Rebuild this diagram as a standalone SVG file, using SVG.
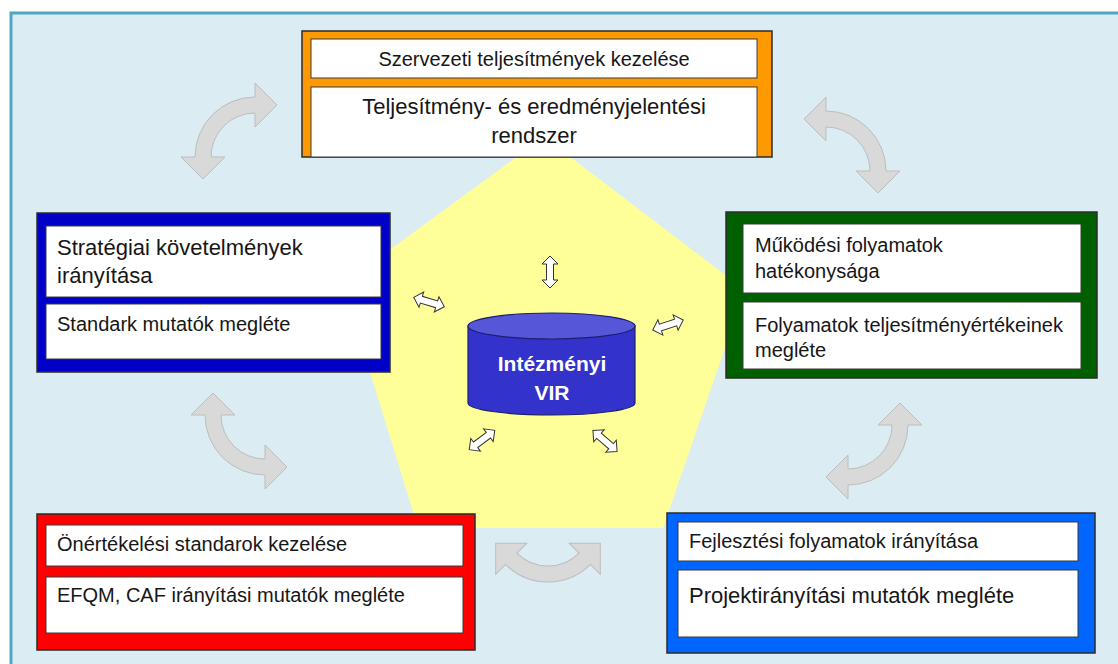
<svg xmlns="http://www.w3.org/2000/svg" width="1118" height="664" viewBox="0 0 1118 664">
<defs>
<style>
.frame{fill:#DBECF3;stroke:#4FA8C2;stroke-width:3}
.outer{stroke:#2b2b2b;stroke-width:1.5}
.inner{fill:#FFFFFF;stroke:#3a3a3a;stroke-width:1}
.t{font-family:"Liberation Sans",Arial,sans-serif;font-size:20px;fill:#161616}
.tl{font-family:"Liberation Sans",Arial,sans-serif;font-size:22px;fill:#161616}
.c{text-anchor:middle}
.vir{font-family:"Liberation Sans",Arial,sans-serif;font-size:21px;font-weight:bold;fill:#FFFFFF;text-anchor:middle}
.garrow{fill:#D9D9D9;stroke:#BDBDBD;stroke-width:1}
.warrow{fill:#FFFFFF;stroke:#333333;stroke-width:1}
</style>
<path id="curve" d="M -60 0 A 60 60 0 0 1 0 -60 L 0 -74 L 22 -52 L 0 -30 L 0 -44 A 44 44 0 0 0 -44 0 L -30 0 L -52 22 L -74 0 Z"/>
<path id="dbl" d="M -16 0 L -8 -8 L -8 -3.5 L 8 -3.5 L 8 -8 L 16 0 L 8 8 L 8 3.5 L -8 3.5 L -8 8 Z"/>
</defs>

<rect x="0" y="0" width="1118" height="664" fill="#FFFFFF"/>
<rect class="frame" x="11" y="13" width="1120" height="660"/>

<polygon id="pentagon" points="544,137 745,290 663,528 418,528 343,284" fill="#FFFF99"/>

<g id="connectors">
  <use href="#curve" class="garrow" transform="translate(255,157)"/>
  <use href="#curve" class="garrow" transform="translate(826,171) scale(-1,1)"/>
  <use href="#curve" class="garrow" transform="translate(265,415) scale(1,-1)"/>
  <use href="#curve" class="garrow" transform="translate(548,522) rotate(-135)"/>
  <use href="#curve" class="garrow" transform="translate(848,425) rotate(180)"/>
  <use href="#dbl" class="warrow" transform="translate(550,272) rotate(90)"/>
  <use href="#dbl" class="warrow" transform="translate(429,302) rotate(17)"/>
  <use href="#dbl" class="warrow" transform="translate(668,325) rotate(-18)"/>
  <use href="#dbl" class="warrow" transform="translate(482,440) rotate(-37)"/>
  <use href="#dbl" class="warrow" transform="translate(605,441) rotate(41)"/>
</g>

<g id="node-top">
  <rect class="outer" x="302" y="31" width="470" height="126" fill="#FF9900"/>
  <rect class="inner" x="311" y="39" width="446" height="39"/>
  <rect class="inner" x="311" y="87" width="446" height="70"/>
  <text class="t c" x="534" y="66">Szervezeti teljesítmények kezelése</text>
  <text class="tl c" x="534" y="114">Teljesítmény- és eredményjelentési</text>
  <text class="tl c" x="534" y="143">rendszer</text>
</g>

<g id="node-left">
  <rect class="outer" x="37" y="213" width="353" height="159" fill="#0000C8"/>
  <rect class="inner" x="46" y="226" width="335" height="71"/>
  <rect class="inner" x="46" y="304" width="335" height="55"/>
  <text class="tl" x="57" y="255">Stratégiai követelmények</text>
  <text class="tl" x="57" y="283">irányítása</text>
  <text class="t" x="57" y="331">Standark mutatók megléte</text>
</g>

<g id="node-right">
  <rect class="outer" x="726" y="212" width="371" height="166" fill="#006000"/>
  <rect class="inner" x="743" y="224" width="338" height="69"/>
  <rect class="inner" x="743" y="302" width="338" height="67"/>
  <text class="t" x="755" y="252">Működési folyamatok</text>
  <text class="t" x="755" y="278">hatékonysága</text>
  <text class="t" x="755" y="332">Folyamatok teljesítményértékeinek</text>
  <text class="t" x="755" y="357">megléte</text>
</g>

<g id="node-bottom-left">
  <rect class="outer" x="37" y="514" width="438" height="136" fill="#FF0000"/>
  <rect class="inner" x="46" y="525" width="417" height="41"/>
  <rect class="inner" x="46" y="577" width="417" height="56"/>
  <text class="t" x="57" y="551">Önértékelési standarok kezelése</text>
  <text class="t" x="57" y="602">EFQM, CAF irányítási mutatók megléte</text>
</g>

<g id="node-bottom-right">
  <rect class="outer" x="667" y="513" width="428" height="140" fill="#0066FF"/>
  <rect class="inner" x="678" y="522" width="400" height="39"/>
  <rect class="inner" x="678" y="570" width="400" height="67"/>
  <text class="t" x="689" y="548">Fejlesztési folyamatok irányítása</text>
  <text class="tl" x="689" y="603">Projektirányítási mutatók megléte</text>
</g>

<g id="node-vir">
  <path d="M 468 326 L 468 403 A 83.5 12 0 0 0 635 403 L 635 326 Z" fill="#3333CC" stroke="#1E1E6E" stroke-width="1.2"/>
  <ellipse cx="551.5" cy="326" rx="83.5" ry="13" fill="#5656D8" stroke="#1E1E6E" stroke-width="1.2"/>
  <text class="vir" x="552" y="371">Intézményi</text>
  <text class="vir" x="552" y="400">VIR</text>
</g>
</svg>
